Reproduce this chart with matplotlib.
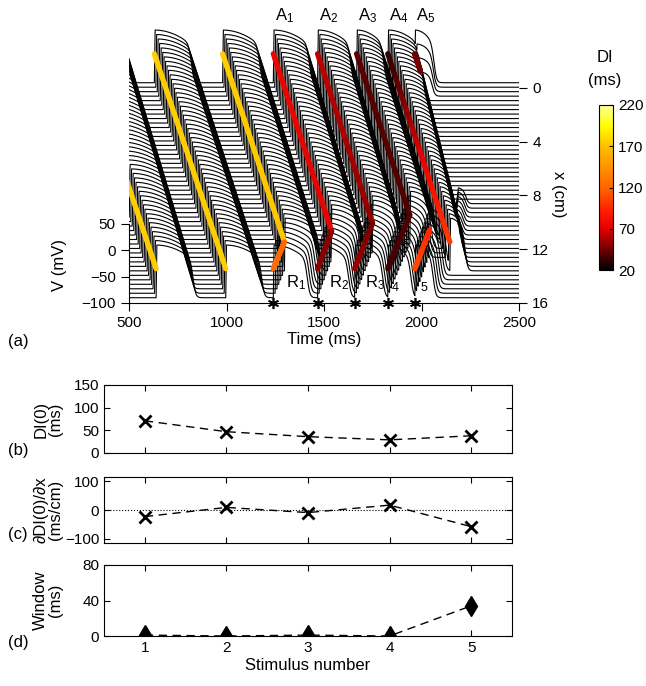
import numpy as np
import matplotlib
matplotlib.use("Agg")
import matplotlib.pyplot as plt
from matplotlib import font_manager
from matplotlib.colors import LinearSegmentedColormap, Normalize
from matplotlib.collections import LineCollection
from matplotlib.cm import ScalarMappable

names = {f.name for f in font_manager.fontManager.ttflist}
FONT = "Liberation Sans" if "Liberation Sans" in names else "DejaVu Sans"
plt.rcParams["font.family"] = [FONT, "DejaVu Sans"]
plt.rcParams["mathtext.fontset"] = "custom"
plt.rcParams["mathtext.rm"] = FONT

# ---------------- panel (a): wave fronts ----------------
trace_x = np.linspace(0, 16, 49)           # cable positions (cm)
v_rest = -90.0
mv_per_cm = 25.5                           # vertical offset between traces

# last entry: the small after-humps near x = 9..13 cm (no DI marker drawn)
wave_name = ["", "", "", "R1", "A1", "R2", "A2", "R3", "A3", "R4", "A4", "R5", "A5", ""]
wave_x0   = [0, 0, 0, 16, 0, 16, 0, 16, 0, 16, 0, 16, 0, 13.0]
wave_x1   = [16, 16, 14.0, 14.0, 13.2, 13.2, 12.6, 12.6, 12.0, 12.0, 14.0, 13.1, 1.3, 9.0]
wave_t0   = [272, 630, 980, 1240, 1240, 1467, 1467, 1657, 1667, 1827, 1827, 1966, 1965, 2150]
wave_t1   = [639, 996, 1297, 1297, 1539, 1539, 1749, 1749, 1940, 1940, 2145, 2042, 1995, 2185]
wave_apd0 = [225, 190, 190, 175, 185, 160, 170, 145, 140, 120, 160, 95, 100, 45]
wave_apd1 = [190, 185, 180, 175, 165, 160, 150, 145, 130, 120, 80, 100, 60, 45]
wave_amp0 = [1, 1, 1, 1, 1, 1, 1, 1, 1, 1, 1, 1, 1, 0.35]
wave_amp1 = [1, 1, 1, 1, 1, 1, 1, 1, 1, 1, 1, 1, 0.3, 0.3]
wave_di0  = [175, 175, 175, 125, 75, 50, 62, 55, 40, 35, 30, 110, 45, np.nan]
wave_di1  = [175, 175, 172, 120, 72, 50, 52, 45, 38, 38, 105, 95, 45, np.nan]

stim_times = [1240, 1467, 1657, 1827, 1966]

# ---------------- panels (b)-(d) ----------------
stim_number = [1, 2, 3, 4, 5]
di_zero = [71, 47, 36, 29, 38]
di_grad = [-23, 9, -9, 17, -58]
window = [1, 0, 1, 0, 34]

di_colors = [(20, (0, 0, 0)), (45, (0.45, 0, 0)), (70, (0.9, 0, 0)),
             (90, (1, 0.1, 0)), (120, (1, 0.4, 0)), (170, (1, 0.75, 0)),
             (195, (1, 1, 0)), (220, (1, 1, 0.6))]
cmap = LinearSegmentedColormap.from_list(
    "di", [((v - 20) / 200, c) for v, c in di_colors])
norm = Normalize(20, 220)


def action_potential(tau, apd, amp):
    up = np.clip(tau / 4.0, 0, 1)
    s = np.clip(tau / apd, 0, None)
    plateau = 1 - 0.28 * s ** 2
    down = 1 / (1 + np.exp(np.clip((tau - apd) / 7.0, -50, 50)))
    return amp * up * plateau * down * (tau >= 0)


t = np.arange(500, 2501, 1.0)
v_mark = -35.0

fig = plt.figure(figsize=(6.46, 6.86), dpi=100)
ax = fig.add_axes([129 / 646, 1 - 303 / 686, 390 / 646, 293 / 686])

for x in trace_x:
    excess = np.zeros_like(t)
    for i in range(len(wave_name)):
        lo, hi = sorted((wave_x0[i], wave_x1[i]))
        if lo - 1e-6 <= x <= hi + 1e-6:
            f = abs(x - wave_x0[i]) / abs(wave_x1[i] - wave_x0[i])
            tact = wave_t0[i] + f * (wave_t1[i] - wave_t0[i])
            apd = wave_apd0[i] + f * (wave_apd1[i] - wave_apd0[i])
            amp = 100 * (wave_amp0[i] + f * (wave_amp1[i] - wave_amp0[i]))
            excess = np.maximum(excess, action_potential(t - tact, apd, amp))
    offset = mv_per_cm * (16 - x)
    ax.plot(t, v_rest + excess + offset, color="black", lw=0.8, zorder=2)

# coloured activation fronts, coloured by DI
for i in range(len(wave_name)):
    if np.isnan(wave_di0[i]):
        continue
    xs = np.linspace(wave_x0[i], wave_x1[i], 30)
    f = np.linspace(0, 1, 30)
    ts = wave_t0[i] + f * (wave_t1[i] - wave_t0[i])
    ys = v_mark + mv_per_cm * (16 - xs)
    di = wave_di0[i] + f * (wave_di1[i] - wave_di0[i])
    pts = np.column_stack([ts, ys]).reshape(-1, 1, 2)
    segs = np.concatenate([pts[:-1], pts[1:]], axis=1)
    lc = LineCollection(segs, colors=cmap(norm(di[:-1])), linewidths=3.8,
                        capstyle="round", zorder=3)
    ax.add_collection(lc)

ax.plot(stim_times, [-100] * len(stim_times), ls="none", marker=(6, 2, 0),
        color="black", ms=8, mew=1.2, clip_on=False, zorder=5)

for i, name in enumerate(wave_name):
    if name.startswith("A"):
        ax.text(wave_t0[i] + 8, 446, r"$\mathregular{A_%s}$" % name[1:],
                fontsize=12, ha="left", va="center")
r_label_t = [1307, 1528, 1708]
for k, tt in enumerate(r_label_t):
    ax.text(tt, -62, r"$\mathregular{R_%d}$" % (k + 1), fontsize=12,
            ha="left", va="center")
ax.text(1847, -72, "4", fontsize=9, ha="left", va="center")
ax.text(1996, -72, "5", fontsize=9, ha="left", va="center")

ax.set_xlim(500, 2500)
ax.set_ylim(-100, 456)
ax.set_xticks([500, 1000, 1500, 2000, 2500])
ax.set_yticks([-100, -50, 0, 50])
for s in ("top", "right"):
    ax.spines[s].set_visible(False)
ax.spines["left"].set_bounds(-100, 50)
ax.tick_params(direction="out", length=6, labelsize=11)
ax.set_xlabel("Time (ms)", fontsize=12, labelpad=1)
ax.set_ylabel("V (mV)", fontsize=12, labelpad=2)
ax.yaxis.set_label_coords(-0.16, 0.13)

ax2 = ax.twinx()
ax2.set_ylim(-100, 456)
cm_ticks = [0, 4, 8, 12, 16]
ax2.set_yticks([-100 + mv_per_cm * (16 - c) for c in cm_ticks])
ax2.set_yticklabels([str(c) for c in cm_ticks])
for s in ax2.spines.values():
    s.set_visible(False)
ax2.tick_params(direction="out", length=6, labelsize=11)
ax2.set_ylabel("x (cm)", fontsize=12, rotation=-90, labelpad=14)
ax2.yaxis.set_label_coords(1.12, 0.37)

# colorbar
cax = fig.add_axes([599 / 646, 1 - 270 / 686, 14 / 646, 165 / 686])
cb = fig.colorbar(ScalarMappable(norm=norm, cmap=cmap), cax=cax,
                  ticks=[20, 70, 120, 170, 220])
cb.ax.tick_params(labelsize=11, direction="in", length=3)
cb.outline.set_linewidth(0.8)
fig.text(605 / 646, 1 - 57 / 686, "DI", fontsize=12, ha="center", va="center")
fig.text(605 / 646, 1 - 80 / 686, "(ms)", fontsize=12, ha="center", va="center")

# ---------------- lower panels ----------------
left, width = 104 / 646, 408 / 646
axb = fig.add_axes([left, 1 - 453 / 686, width, 68 / 686])
axc = fig.add_axes([left, 1 - 543 / 686, width, 66 / 686])
axd = fig.add_axes([left, 1 - 636 / 686, width, 71 / 686])

axb.plot(stim_number, di_zero, color="black", ls=(0, (6, 4)), lw=1,
         marker="x", ms=8, mew=2)
axb.set_ylim(0, 150)
axb.set_yticks([0, 50, 100, 150])
axb.set_ylabel("DI(0)\n(ms)", fontsize=12, linespacing=1.0)

axc.axhline(0, color="black", ls=":", lw=0.8)
axc.plot(stim_number, di_grad, color="black", ls=(0, (6, 4)), lw=1,
         marker="x", ms=8, mew=2)
axc.set_ylim(-115, 115)
axc.set_yticks([-100, 0, 100])
axc.set_ylabel("\u2202DI(0)/\u2202x\n(ms/cm)", fontsize=12, linespacing=1.0)

axd.plot(stim_number, window, color="black", ls=(0, (6, 4)), lw=1,
         marker="d", ms=10)
axd.set_ylim(0, 80)
axd.set_yticks([0, 40, 80])
axd.set_ylabel("Window\n(ms)", fontsize=12, linespacing=1.0)
axd.set_xlabel("Stimulus number", fontsize=12, labelpad=2)

for a in (axb, axc, axd):
    a.set_xlim(0.5, 5.5)
    a.set_xticks(stim_number)
    a.tick_params(direction="in", top=True, right=True, length=4, labelsize=11)
    a.yaxis.set_label_coords(-0.10, 0.5)
    for s in a.spines.values():
        s.set_linewidth(0.8)
axb.set_xticklabels([])
axc.set_xticklabels([])

for lbl, y in (("(a)", 342), ("(b)", 450), ("(c)", 534), ("(d)", 642)):
    fig.text(18 / 646, 1 - y / 686, lbl, fontsize=12, ha="center", va="center")

fig.savefig("out.png", dpi=100)
